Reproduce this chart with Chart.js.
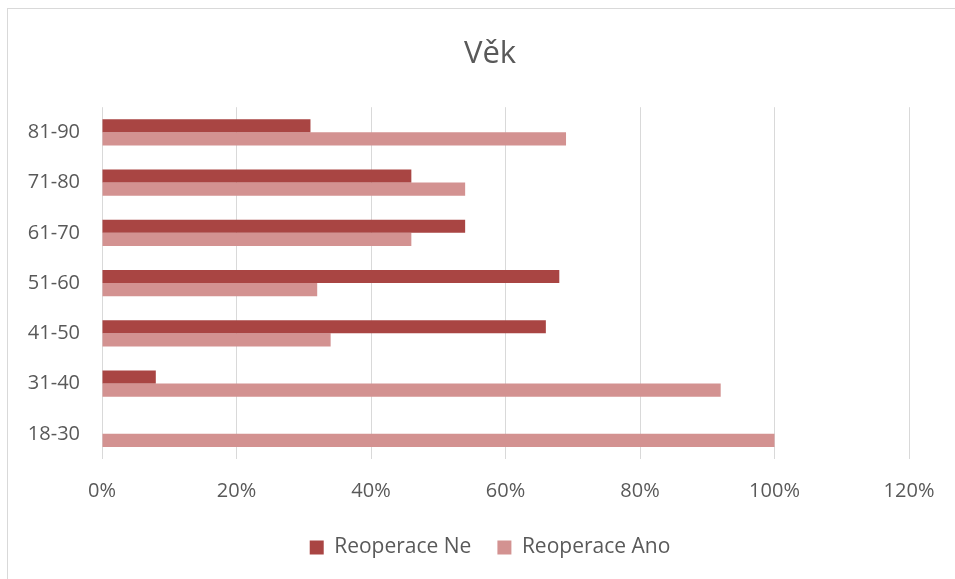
<!DOCTYPE html>
<html>
<head>
<meta charset="utf-8">
<script src="https://cdn.jsdelivr.net/npm/chart.js@4.4.1/dist/chart.umd.min.js"></script>
<style>
  html, body { margin: 0; padding: 0; background: #fff; overflow: hidden; }
  #frame { position: absolute; left: 7px; top: 8px; width: 966px; height: 590px; border-top: 1px solid #d9d9d9; border-left: 1px solid #d9d9d9; box-sizing: border-box; }
  #c { display: block; }
</style>
</head>
<body>
<div id="frame"><canvas id="c" width="964" height="588"></canvas></div>
<script>
const categories = ['81-90', '71-80', '61-70', '51-60', '41-50', '31-40', '18-30'];
const reoperaceNe = [31, 46, 54, 68, 66, 8, 0];
const reoperaceAno = [69, 54, 46, 32, 34, 92, 100];
const xTicks = [0, 20, 40, 60, 80, 100, 120];
const seriesNames = ['Reoperace Ne', 'Reoperace Ano'];
const titleText = 'Věk';

const FONT = '"Open Sans", "DejaVu Sans", sans-serif';
const GRAY = '#595959';

new Chart(document.getElementById('c'), {
  type: 'bar',
  data: {
    labels: categories,
    datasets: [
      { label: seriesNames[0], data: reoperaceNe, backgroundColor: '#A94543', borderWidth: 0, xAxisID: 'x', yAxisID: 'y' },
      { label: seriesNames[1], data: reoperaceAno, backgroundColor: '#D39291', borderWidth: 0, xAxisID: 'x', yAxisID: 'y' }
    ]
  },
  options: {
    indexAxis: 'y',
    responsive: false,
    animation: false,
    devicePixelRatio: 1,
    categoryPercentage: 0.52,
    barPercentage: 1.0,
    layout: { padding: { left: 0, right: 0, top: 0, bottom: 29 } },
    plugins: {
      title: {
        display: true,
        text: titleText,
        color: GRAY,
        font: { family: FONT, size: 31, weight: 'normal' },
        padding: { top: 27, bottom: 34 }
      },
      legend: {
        position: 'bottom',
        labels: {
          color: GRAY,
          font: { family: FONT, size: 21 },
          boxWidth: 14,
          boxHeight: 14,
          padding: 26
        }
      },
      tooltip: { enabled: false }
    },
    scales: {
      x: {
        min: 0,
        max: 120,
        afterBuildTicks: (axis) => { axis.ticks = xTicks.map(v => ({ value: v })); },
        afterFit: (axis) => { axis.height = 52; },
        ticks: {
          color: GRAY,
          font: { family: FONT, size: 20 },
          padding: 20,
          callback: (v) => v + '%'
        },
        grid: { color: '#d9d9d9', lineWidth: 1, drawTicks: false },
        border: { display: false }
      },
      y: {
        position: 'left',
        afterFit: (axis) => { axis.width = 94; },
        ticks: {
          color: GRAY,
          font: { family: FONT, size: 20 },
          padding: 22
        },
        grid: { display: false, drawTicks: false },
        border: { display: false }
      },
      yRight: {
        type: 'category',
        position: 'right',
        labels: categories,
        afterFit: (axis) => { axis.width = 63; },
        ticks: { display: false },
        grid: { display: false, drawTicks: false },
        border: { display: false }
      }
    }
  }
});
</script>
</body>
</html>
